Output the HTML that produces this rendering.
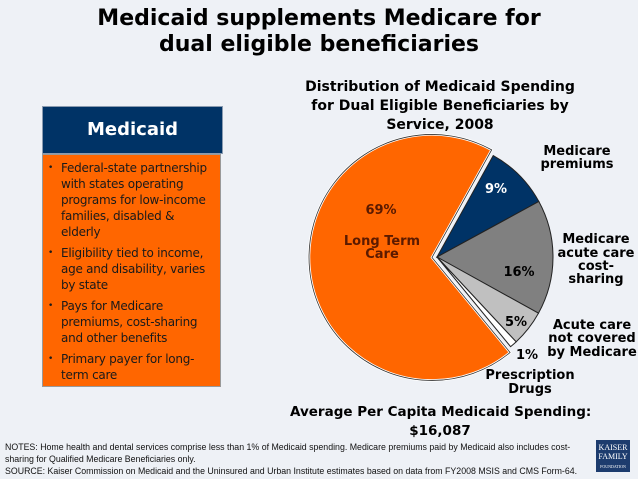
<!DOCTYPE html>
<html><head><meta charset="utf-8"><style>
body{margin:0;width:638px;height:479px;background:#eef1f6;font-family:"DejaVu Sans","Liberation Sans",sans-serif;position:relative;overflow:hidden}
.t{position:absolute;white-space:nowrap}
li{position:relative}li:before{content:"•";position:absolute;left:-13px;font-size:9px}
</style></head><body>
<div class="t" style="left:0;width:638px;top:6px;text-align:center;font-weight:bold;font-size:22px;line-height:26px;color:#000">Medicaid supplements Medicare for<br>dual eligible beneficiaries</div>
<div style="position:absolute;left:42px;top:106px;width:179px;height:46px;background:#003366;border:1px solid #8a9bb0;color:#fff;font-weight:bold;font-size:18px;text-align:center;line-height:46px">Medicaid</div>
<div style="position:absolute;left:42px;top:154px;width:179px;height:233px;background:#ff6600;border:1px solid #999;font-size:12px;letter-spacing:-0.25px;line-height:16px;color:#1a1a1a;box-sizing:border-box;padding:5px 2px 0 0">
<ul style="margin:0;padding-left:18px;list-style:none">
<li style="margin-bottom:5px">Federal-state partnership<br>with states operating<br>programs for low-income<br>families, disabled &amp;<br>elderly</li>
<li style="margin-bottom:5px">Eligibility tied to income,<br>age and disability, varies<br>by state</li>
<li style="margin-bottom:5px">Pays for Medicare<br>premiums, cost-sharing<br>and other benefits</li>
<li>Primary payer for long-<br>term care</li>
</ul></div>
<div class="t" style="left:290px;width:300px;top:78px;text-align:center;font-weight:bold;font-size:14px;line-height:19px">Distribution of Medicaid Spending<br>for Dual Eligible Beneficiaries by<br>Service, 2008</div>
<svg id="pie" width="638" height="479" style="position:absolute;left:0;top:0" font-family="DejaVu Sans, Liberation Sans, sans-serif" font-weight="bold" font-size="13"></svg>
<div class="t" style="left:290px;width:300px;top:403px;text-align:center;font-weight:bold;font-size:13.5px;line-height:19px">Average Per Capita Medicaid Spending:<br>$16,087</div>
<div class="t" style="left:5px;top:441px;font-size:8.8px;line-height:12px;color:#111;font-family:'Liberation Sans',sans-serif">NOTES: Home health and dental services comprise less than 1% of Medicaid spending. Medicare premiums paid by Medicaid also includes cost-<br>sharing for Qualified Medicare Beneficiaries only.<br>SOURCE: Kaiser Commission on Medicaid and the Uninsured and Urban Institute estimates based on data from FY2008 MSIS and CMS Form-64.</div>
<div style="position:absolute;left:596px;top:440px;width:34px;height:32px;background:#1d3c6e;color:#fff;font-family:'Liberation Serif',serif;font-size:8px;line-height:9px;text-align:center;padding-top:3px;box-sizing:border-box">KAISER<br>FAMILY<br><span style="font-size:4px">FOUNDATION</span></div>
<script>
const categories=["Medicare premiums","Medicare acute care cost-sharing","Acute care not covered by Medicare","Prescription Drugs","Long Term Care"];
const values=[9,16,5,1,69];
const colors=["#003366","#808080","#c0c0c0","#ffffff","#ff6600"];
const svg=document.getElementById('pie');
const NS="http://www.w3.org/2000/svg";
const cx=437,cy=257,r=116,start=29;
const total=values.reduce((a,b)=>a+b,0);
function pt(ang,rad,ox,oy){const a=ang*Math.PI/180;return [ox+rad*Math.sin(a),oy-rad*Math.cos(a)];}
let acc=start;
values.forEach((v,i)=>{
  const sweep=v/total*360;const a0=acc,a1=acc+sweep;acc=a1;
  let ox=cx,oy=cy,rr=r;
  if(i===4){const m=(a0+a1)/2;const o=pt(m,5,cx,cy);ox=o[0];oy=o[1];rr=123;}
  const p0=pt(a0,rr,ox,oy),p1=pt(a1,rr,ox,oy);
  const p=document.createElementNS(NS,'path');
  p.setAttribute('d',`M${ox},${oy}L${p0[0]},${p0[1]}A${rr},${rr} 0 ${sweep>180?1:0} 1 ${p1[0]},${p1[1]}Z`);
  p.setAttribute('fill',colors[i]);p.setAttribute('stroke','#222');p.setAttribute('stroke-width','1');
  if(i===4){p.setAttribute('stroke','#fff');p.setAttribute('stroke-width','2.5');}
  
  
  svg.appendChild(p);
  if(i===4){const q=p.cloneNode();q.setAttribute('fill','none');q.setAttribute('stroke','#333');q.setAttribute('stroke-width','0.8');svg.appendChild(q);}
});
const labels=[
 [496,193,"9%","#fff"],[519,276,"16%","#000"],[516,326,"5%","#000"],[527,359,"1%","#000"],[381,214,"69%","#5a1a00"],
 [382,245,"Long Term","#5a1a00"],[382,258,"Care","#5a1a00"],
 [577,155,"Medicare","#000"],[577,168,"premiums","#000"],
 [596,243,"Medicare","#000"],[596,257,"acute care","#000"],[596,270,"cost-","#000"],[596,283,"sharing","#000"],
 [592,329,"Acute care","#000"],[592,342,"not covered","#000"],[592,356,"by Medicare","#000"],
 [530,379,"Prescription","#000"],[530,393,"Drugs","#000"]];
labels.forEach(l=>{const t=document.createElementNS(NS,'text');t.setAttribute('x',l[0]);t.setAttribute('y',l[1]);t.setAttribute('text-anchor','middle');t.setAttribute('fill',l[3]);t.textContent=l[2];


svg.appendChild(t);});
</script>
</body></html>
